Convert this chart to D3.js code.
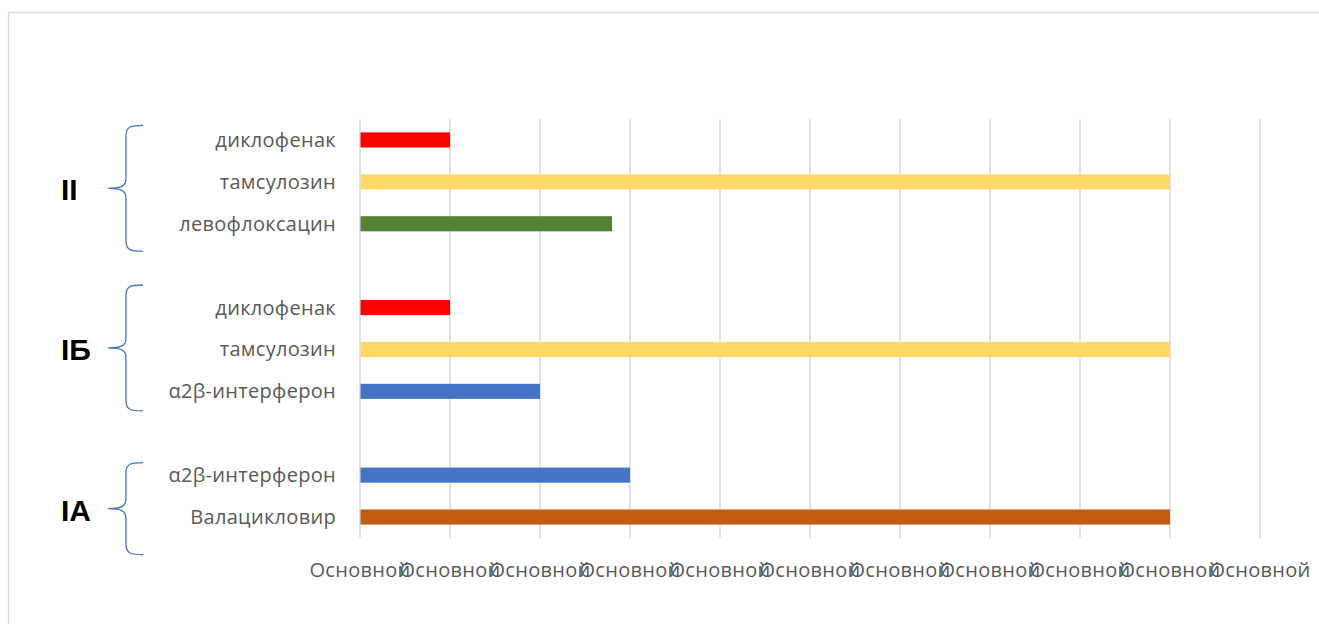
<!DOCTYPE html>
<html>
<head>
<meta charset="utf-8">
<script src="https://cdn.jsdelivr.net/npm/d3@7"></script>
<style>
  html, body { margin: 0; padding: 0; background: #fff; }
  svg { display: block; }
</style>
</head>
<body>
<svg id="chart" width="1319" height="624"></svg>
<script>
// Rows from top to bottom; empty strings are spacer rows between groups
const rowLabels = ["диклофенак", "тамсулозин", "левофлоксацин", "",
                   "диклофенак", "тамсулозин", "α2β-интерферон", "",
                   "α2β-интерферон", "Валацикловир"];
const rowValues = [1, 9, 2.8, null, 1, 9, 2, null, 3, 9];
const rowGroups = ["II", "II", "II", null, "IБ", "IБ", "IБ", null, "IA", "IA"];
const groups = ["II", "IБ", "IA"];
const tickValues = [0, 1, 2, 3, 4, 5, 6, 7, 8, 9, 10];
const tickLabels = ["Основной", "Основной", "Основной", "Основной", "Основной", "Основной",
                    "Основной", "Основной", "Основной", "Основной", "Основной"];

const drugColor = {
  "диклофенак": "#ff0000",
  "тамсулозин": "#ffd966",
  "левофлоксацин": "#548235",
  "α2β-интерферон": "#4472c4",
  "Валацикловир": "#c55a11"
};

const svg = d3.select("#chart");
const font = "'Open Sans', 'Liberation Sans', sans-serif";

// chart frame
svg.append("rect")
  .attr("x", 8.5).attr("y", 12.5)
  .attr("width", 1340).attr("height", 640)
  .attr("fill", "#fff").attr("stroke", "#d9d9d9").attr("stroke-width", 1.3);

const x = d3.scaleLinear().domain([0, 10]).range([360, 1260]);
const rows = d3.range(rowLabels.length);
const y = d3.scaleBand().domain(rows).range([119, 538])
  .paddingInner(0.64).paddingOuter(0.32);

// vertical gridlines
svg.append("g").selectAll("line").data(tickValues).join("line")
  .attr("x1", d => x(d)).attr("x2", d => x(d))
  .attr("y1", 119).attr("y2", 538)
  .attr("stroke", "#d9d9d9").attr("stroke-width", 1.5);

// bars
svg.append("g").selectAll("rect")
  .data(rows.filter(i => rowValues[i] != null)).join("rect")
  .attr("x", x(0) + 0.5)
  .attr("y", i => y(i))
  .attr("width", i => x(rowValues[i]) - x(0) - 0.5)
  .attr("height", y.bandwidth())
  .attr("fill", i => drugColor[rowLabels[i]]);

// category labels
svg.append("g").selectAll("text")
  .data(rows.filter(i => rowLabels[i] !== "")).join("text")
  .attr("x", 336)
  .attr("y", i => y(i) + y.bandwidth() / 2)
  .attr("dy", "0.35em")
  .attr("text-anchor", "end")
  .attr("font-family", font).attr("font-size", 20)
  .attr("letter-spacing", 0.3)
  .attr("fill", "#595959")
  .text(i => rowLabels[i]);

// value axis labels
svg.append("g").selectAll("text").data(tickValues).join("text")
  .attr("x", d => x(d))
  .attr("y", 577)
  .attr("text-anchor", "middle")
  .attr("font-family", font).attr("font-size", 20)
  .attr("letter-spacing", 0.3)
  .attr("fill", "#595959")
  .text((d, i) => tickLabels[i]);

// group braces and labels
const bracePad = { "II": [-7, 20], "IБ": [-15, 12], "IA": [-5, 30] };
groups.forEach(g => {
  const idx = rows.filter(i => rowGroups[i] === g);
  const top = y(idx[0]) + bracePad[g][0];
  const bottom = y(idx[idx.length - 1]) + y.bandwidth() + bracePad[g][1];
  const mid = (top + bottom) / 2;
  const xe = 143, xv = 126, xt = 108;
  const p = d3.path();
  p.moveTo(xe, top);
  p.bezierCurveTo(131, top, xv, top + 1, xv, top + 10);
  p.lineTo(xv, mid - 10);
  p.bezierCurveTo(xv, mid - 2, 121, mid, xt, mid);
  p.bezierCurveTo(121, mid, xv, mid + 2, xv, mid + 10);
  p.lineTo(xv, bottom - 10);
  p.bezierCurveTo(xv, bottom - 1, 131, bottom, xe, bottom);
  svg.append("path").attr("d", p.toString())
    .attr("fill", "none").attr("stroke", "#4472c4").attr("stroke-width", 1.3);

  svg.append("text")
    .attr("x", 61).attr("y", mid + 12)
    .attr("font-family", "'Liberation Sans', Arial, sans-serif")
    .attr("font-weight", "bold").attr("font-size", 30)
    .attr("fill", "#000")
    .text(g);
});
</script>
</body>
</html>
